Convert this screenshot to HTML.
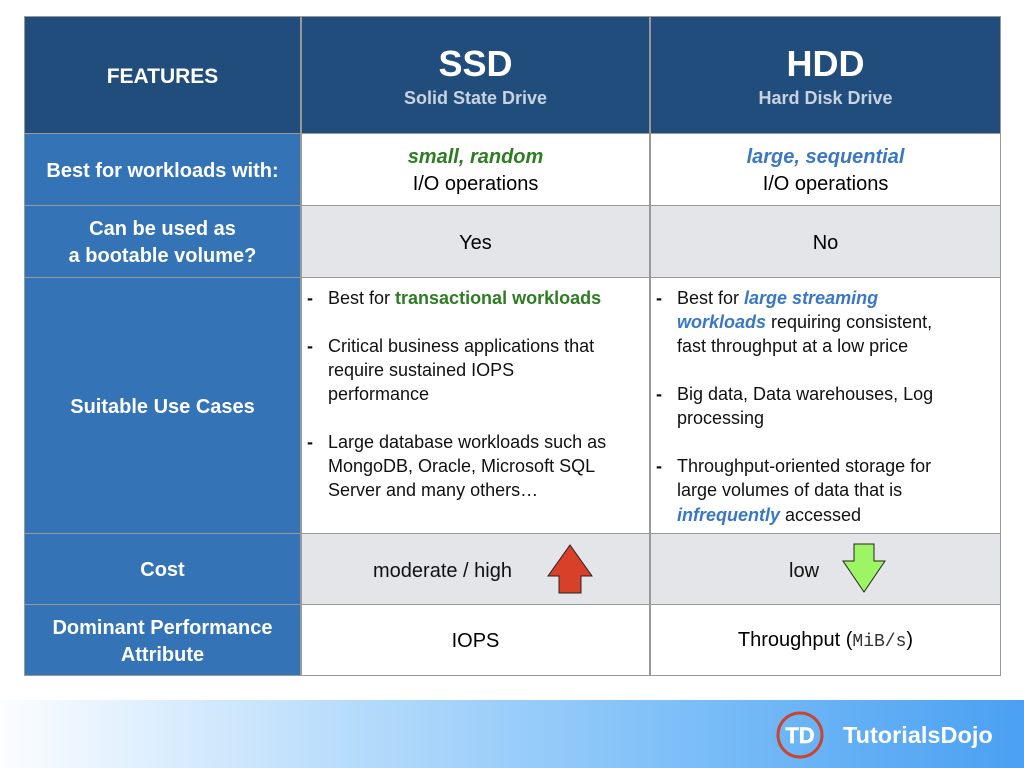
<!DOCTYPE html>
<html><head><meta charset="utf-8"><style>
*{margin:0;padding:0;box-sizing:border-box}
body{width:1024px;height:768px;background:#fff;position:relative;overflow:hidden;font-family:"Liberation Sans",Arial,sans-serif}
.c{position:absolute;display:flex;flex-direction:column;align-items:center;justify-content:center;text-align:center;padding-top:3px}
.hd{background:#214d7d;color:#fff;font-weight:bold}
.lf{background:#3473b6;color:#fff;font-weight:bold;font-size:20px;line-height:27px}
.w{background:#fff;color:#000;font-size:20px;line-height:27px}
.g{background:#e4e5e8;color:#000;font-size:20px;line-height:27px}
.l{position:absolute;font-size:18px;line-height:24px;color:#111;white-space:nowrap}
.d{font-weight:bold}
.gr{color:#2e7d22;font-weight:bold}
.bl{color:#3a78c3;font-weight:bold;font-style:italic}
</style></head><body>
<div style="position:absolute;left:24px;top:16px;width:977px;height:660px;background:#999"></div>
<div class="c hd" style="left:25px;top:17px;width:275px;height:116px;font-size:21px">FEATURES</div>
<div class="c hd" style="left:302px;top:17px;width:347px;height:116px"><div style="font-size:36px;line-height:42px">SSD</div><div style="font-size:18px;color:#c9d3e0;line-height:26px">Solid State Drive</div></div>
<div class="c hd" style="left:651px;top:17px;width:349px;height:116px"><div style="font-size:36px;line-height:42px">HDD</div><div style="font-size:18px;color:#c9d3e0;line-height:26px">Hard Disk Drive</div></div>

<div class="c lf" style="left:25px;top:134px;width:275px;height:71px">Best for workloads with:</div>
<div class="c w" style="left:302px;top:134px;width:347px;height:71px"><div class="gr" style="font-style:italic">small, random</div><div>I/O operations</div></div>
<div class="c w" style="left:651px;top:134px;width:349px;height:71px"><div class="bl">large, sequential</div><div>I/O operations</div></div>

<div class="c lf" style="left:25px;top:206px;width:275px;height:71px">Can be used as<br>a bootable volume?</div>
<div class="c g" style="left:302px;top:206px;width:347px;height:71px">Yes</div>
<div class="c g" style="left:651px;top:206px;width:349px;height:71px">No</div>

<div class="c lf" style="left:25px;top:278px;width:275px;height:255px">Suitable Use Cases</div>
<div class="c w" style="left:302px;top:278px;width:347px;height:255px"></div>
<div class="c w" style="left:651px;top:278px;width:349px;height:255px"></div>

<div class="c lf" style="left:25px;top:534px;width:275px;height:70px">Cost</div>
<div class="c g" style="left:302px;top:534px;width:347px;height:70px"></div>
<div class="c g" style="left:651px;top:534px;width:349px;height:70px"></div>
<div class="l" style="left:373px;top:559px;font-size:20px">moderate / high</div>
<div class="l" style="left:789px;top:559px;font-size:20px">low</div>
<svg style="position:absolute;left:545px;top:543px" width="50" height="52"><polygon points="25,2 47,33 36,33 36,50 14,50 14,33 3,33" fill="#d9402a" stroke="#222" stroke-width="1"/></svg>
<svg style="position:absolute;left:840px;top:542px" width="48" height="52"><polygon points="14,2 34,2 34,19 45,19 24,50 3,19 14,19" fill="#9ef563" stroke="#222" stroke-width="1"/></svg>

<div class="c lf" style="left:25px;top:605px;width:275px;height:70px">Dominant Performance<br>Attribute</div>
<div class="c w" style="left:302px;top:605px;width:347px;height:70px">IOPS</div>
<div class="c w" style="left:651px;top:605px;width:349px;height:70px"><div>Throughput (<span style="font-family:'Liberation Mono',monospace;font-size:18px;color:#333">MiB/s</span>)</div></div>

<div class="l d" style="left:307px;top:286px">-</div><div class="l" style="left:328px;top:286px">Best for <span class="gr">transactional workloads</span></div>
<div class="l d" style="left:307px;top:334px">-</div><div class="l" style="left:328px;top:334px">Critical business applications that</div>
<div class="l" style="left:328px;top:358px">require sustained IOPS</div>
<div class="l" style="left:328px;top:382px">performance</div>
<div class="l d" style="left:307px;top:430px">-</div><div class="l" style="left:328px;top:430px">Large database workloads such as</div>
<div class="l" style="left:328px;top:454px">MongoDB, Oracle, Microsoft SQL</div>
<div class="l" style="left:328px;top:478px">Server and many others…</div>

<div class="l d" style="left:656px;top:286px">-</div><div class="l" style="left:677px;top:286px">Best for <span class="bl">large streaming</span></div>
<div class="l" style="left:677px;top:310px"><span class="bl">workloads</span> requiring consistent,</div>
<div class="l" style="left:677px;top:334px">fast throughput at a low price</div>
<div class="l d" style="left:656px;top:382px">-</div><div class="l" style="left:677px;top:382px">Big data, Data warehouses, Log</div>
<div class="l" style="left:677px;top:406px">processing</div>
<div class="l d" style="left:656px;top:454px">-</div><div class="l" style="left:677px;top:454px">Throughput-oriented storage for</div>
<div class="l" style="left:677px;top:478px">large volumes of data that is</div>
<div class="l" style="left:677px;top:503px"><span class="bl">infrequently</span> accessed</div>

<div style="position:absolute;left:0;top:700px;width:1024px;height:68px;background:linear-gradient(90deg,#fbfdff 0%,#b5dbfb 35%,#7fc0f8 65%,#4aa0f2 100%)"></div>
<svg style="position:absolute;left:774px;top:709px" width="52" height="52"><circle cx="26" cy="26" r="22" fill="none" stroke="#c9452f" stroke-width="3"/><text x="26" y="34" text-anchor="middle" font-family="Liberation Sans" font-weight="bold" font-size="22" fill="#fff" stroke="#fff" stroke-width="0.5">TD</text></svg>
<div class="l" style="left:843px;top:722px;font-size:23.5px;line-height:26px;font-weight:bold;color:#fff">TutorialsDojo</div>
</body></html>
